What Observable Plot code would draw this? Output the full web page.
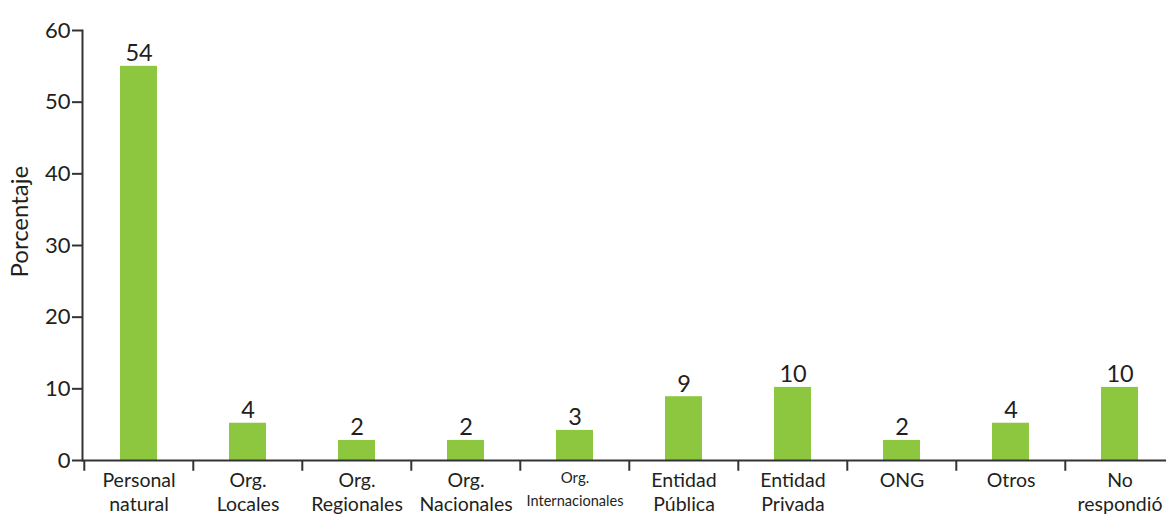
<!DOCTYPE html>
<html>
<head>
<meta charset="utf-8">
<script src="https://cdn.jsdelivr.net/npm/d3@7"></script>
<script src="https://cdn.jsdelivr.net/npm/@observablehq/plot@0.6"></script>
<style>
  html, body { margin: 0; padding: 0; background: white; overflow: hidden; }
  #chart svg { display: block; }
</style>
</head>
<body>
<div id="chart"></div>
<script>
const categories = ["Personal\nnatural", "Org.\nLocales", "Org.\nRegionales", "Org.\nNacionales", "Org.\nInternacionales", "Entidad\nPública", "Entidad\nPrivada", "ONG", "Otros", "No\nrespondió"];
const values = [55, 5.2, 2.8, 2.8, 4.2, 8.9, 10.2, 2.8, 5.2, 10.2];
const labels = ["54", "4", "2", "2", "3", "9", "10", "2", "4", "10"];
const yTicks = [0, 10, 20, 30, 40, 50, 60];
const yTitle = "Porcentaje";

const data = categories.map((c, i) => ({category: c, value: values[i], label: labels[i]}));
const small = categories[4];
const axisColor = "#333";

const chart = Plot.plot({
  width: 1166,
  height: 514,
  marginLeft: 82,
  marginRight: -10,
  marginTop: 30,
  marginBottom: 54,
  style: {fontFamily: "Lato, 'Open Sans', sans-serif", color: "#231f20", background: "white"},
  x: {domain: categories, paddingInner: 0.66, paddingOuter: 0.33, axis: null},
  y: {domain: [0, 60], axis: null},
  marks: [
    Plot.barY(data, {x: "category", y: "value", fill: "#8dc63f"}),
    Plot.text(data, {x: "category", y: "value", text: "label", lineAnchor: "bottom", dy: -5, fontSize: 23.5}),
    Plot.frame({anchor: "left", stroke: axisColor, strokeWidth: 2}),
    Plot.ruleY([0], {stroke: axisColor, strokeWidth: 2}),
    Plot.ruleX(categories, {x: d => d, y1: 0, y2: -1.5, dx: -54.7, stroke: axisColor, strokeWidth: 2}),
    Plot.axisY({ticks: yTicks, tickSize: 10, tickPadding: 2, fontSize: 22, stroke: axisColor, strokeWidth: 2, label: null}),
    Plot.axisX({tickSize: 0, tickPadding: 10, fontSize: 19.5, lineHeight: 1.2, label: null,
      tickFormat: d => d === small ? "" : d}),
    Plot.text([small], {x: d => d, y: 0, text: d => d, lineAnchor: "top", dy: 7, fontSize: 15, lineHeight: 1.5}),
    Plot.text([yTitle], {frameAnchor: "left", text: d => d, rotate: -90, dx: -62, dy: 32, fontSize: 24})
  ]
});

d3.select(chart).selectAll("tspan").filter(function() { return this.textContent === "Internacionales"; })
  .attr("textLength", 97).attr("lengthAdjust", "spacingAndGlyphs");

document.getElementById("chart").appendChild(chart);
</script>
</body>
</html>
